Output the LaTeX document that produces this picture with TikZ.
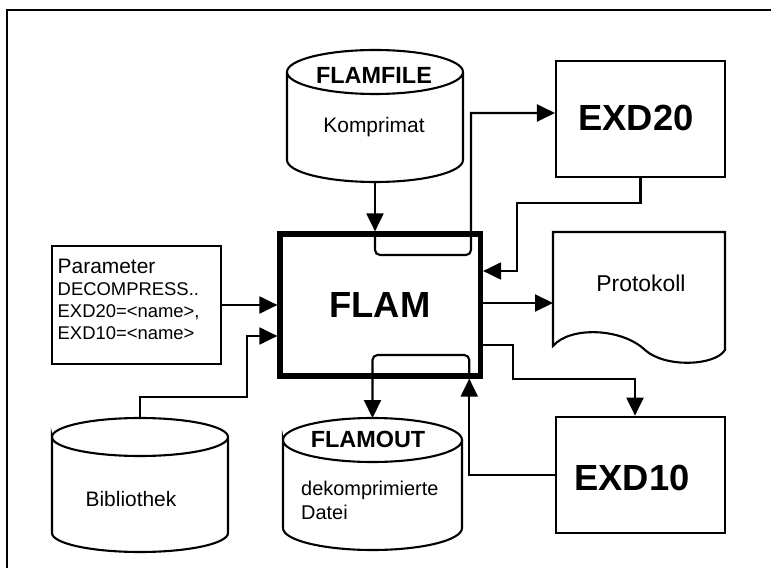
\documentclass[tikz,border=0pt]{standalone}
\usepackage{fontspec}
\setmainfont{Liberation Sans}
\usetikzlibrary{arrows.meta}
\newcommand\setfs[1]{\fontsize{#1}{#1}\selectfont}
\newcommand\dbcyl[3]{%
  \draw[ln] ([yshift=-#3bp]#1.north west)
     arc[start angle=180,end angle=-180,x radius=#2bp,y radius=#3bp]
     -- ([yshift=#3bp]#1.south west)
     arc[start angle=180,end angle=360,x radius=#2bp,y radius=#3bp]
     -- ([yshift=-#3bp]#1.north east);}
\tikzset{
  ln/.style={line width=2.1bp},
  arr/.style={ln, -{Triangle[length=18bp,width=17bp]}},
  box/.style={draw, line width=2.1bp, inner sep=0pt},
  thickbox/.style={draw, line width=5.2bp, inner sep=0pt},
  ghost/.style={inner sep=0pt, outer sep=0pt},
  bigbold/.style={inner sep=0pt, anchor=base, font=\setfs{36.5}\bfseries},
  dbtitle/.style={inner sep=0pt, anchor=base, font=\setfs{23.5}\bfseries},
  plaintxt/.style={inner sep=0pt, anchor=base, font=\setfs{21}},
  leftplain/.style={inner sep=0pt, anchor=base west, font=\setfs{20}},
  paramtxt/.style={inner sep=0pt, anchor=base west, font=\setfs{18.5}},
}
\begin{document}
\begin{tikzpicture}[x=1bp,y=-1bp]
\useasboundingbox (0,0) rectangle (771,568);
\draw[ln] (7,568) -- (7,10) -- (771,10);

% boxes
\node[thickbox, minimum width=200.5bp, minimum height=142bp] (flam) at (380.25,305) {};
\node[bigbold] (flamtxt) at (380,317) {FLAM};
\node[box, minimum width=169bp, minimum height=116bp] (exd20) at (640.5,118.7) {};
\node[bigbold] (exd20txt) at (636,131) {EXD20};
\node[box, minimum width=169bp, minimum height=116.6bp] (exd10) at (640.5,475) {};
\node[bigbold] (exd10txt) at (632,490) {EXD10};
\node[box, minimum width=169bp, minimum height=118bp] (param) at (136.5,305) {};
\node[plaintxt, anchor=base west] (p1) at (57.5,273) {Parameter};
\node[paramtxt] (p2) at (57.5,295) {DECOMPRESS..};
\node[paramtxt] (p3) at (57.5,317) {EXD20=<name>,};
\node[paramtxt] (p4) at (57.5,339) {EXD10=<name>};

% Protokoll document
\node[ghost, minimum width=172bp, minimum height=116bp] (proto) at (639,290) {};
\draw[ln] (proto.north west) -- (proto.north east) -- (725,350)
  .. controls (715,366) and (665,368) .. (645,350)
  .. controls (622,328) and (570,326) .. (553,346) -- cycle;
\node[plaintxt, font=\setfs{23}] (prototxt) at (641,291) {Protokoll};

% cylinders
\node[ghost, minimum width=176bp, minimum height=132bp] (flamfile) at (375,116) {};
\dbcyl{flamfile}{88}{22}
\node[dbtitle] (flamfiletxt) at (374,84) {FLAMFILE};
\node[plaintxt] (kompr) at (374,133) {Komprimat};

\node[ghost, minimum width=179bp, minimum height=132bp] (flamout) at (372.5,484) {};
\dbcyl{flamout}{89.5}{22}
\node[dbtitle] (flamouttxt) at (368,447) {FLAMOUT};
\node[leftplain] (dek1) at (301,495) {dekomprimierte};
\node[leftplain] (dek2) at (301,519) {Datei};

\node[ghost, minimum width=176bp, minimum height=134bp] (biblio) at (140,485) {};
\dbcyl{biblio}{88}{19}
\node[plaintxt] (bibtxt) at (131,506) {Bibliothek};

% connectors
\draw[arr] (flamfile.south) -- (flamfile.south |- flam.north);
\draw[arr, rounded corners=5bp] (flamfile.south |- flam.north) -- (375,255) -- (471,255) -- (471,200)
  [sharp corners] -- (471,113) -- (exd20.west |- 471,113);
\draw[arr] (exd20.south) |- (517,203) -- (517,271) -- (flam.east |- 517,271);
\draw[arr] (flam.east |- 0,303) -- (proto.west |- 0,303);
\draw[arr] (flam.east |- 0,345) -| (513,379) -| ([xshift=-5.5bp]exd10.north);
\draw[arr] (exd10.west) -| ([xshift=89bp]flam.south);
\draw[arr, rounded corners=5bp] ([xshift=89bp]flam.south) -- (469.25,355) -- (372.5,355) -- (flamout.north);
\draw[arr] (param.east) -- (param.east -| flam.west);
\draw[arr] (biblio.north) |- (247,397) -- (247,336) -- (flam.west |- 247,336);
\end{tikzpicture}
\end{document}
